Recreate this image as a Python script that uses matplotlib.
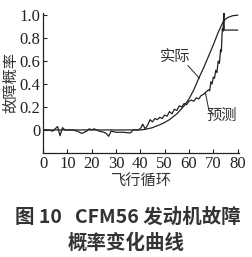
import matplotlib
matplotlib.use('Agg')
import matplotlib.pyplot as plt

plt.rcParams['font.family'] = ['Liberation Serif', 'Noto Sans CJK SC', 'DejaVu Sans']

# predicted (jagged) curve
pred_t = [0, 2, 4, 5, 6, 7, 8, 9, 10, 12, 14, 16, 18, 19, 20, 21, 23, 25, 26, 27, 28, 30,
          32, 33, 35, 36, 37, 39, 40, 41, 42, 43, 44, 45, 46, 47, 48, 49, 50, 51, 52, 53,
          54, 55, 56, 57, 58, 59, 60, 61, 62, 63, 64, 65, 66, 67, 68, 68.5, 69, 69.5, 70,
          70.5, 71, 71.5, 72, 72.5, 73, 73.3, 73.7, 74, 74.4, 74.5, 80]
pred_p = [0, 0, -0.01, 0.01, 0.03, -0.05, 0.02, 0, 0, 0, -0.01, -0.03, -0.01, 0.01, 0, 0.01,
          -0.01, -0.02, -0.03, -0.055, -0.01, -0.02, -0.02, -0.02, -0.025, -0.025, 0, 0, 0.01,
          0.05, 0.01, 0.04, 0.09, 0.07, 0.1, 0.09, 0.11, 0.1, 0.13, 0.12, 0.16, 0.14, 0.18,
          0.17, 0.21, 0.2, 0.23, 0.22, 0.25, 0.26, 0.25, 0.28, 0.27, 0.3, 0.31, 0.33, 0.35,
          0.34, 0.42, 0.40, 0.46, 0.45, 0.52, 0.50, 0.6, 0.58, 0.7, 0.68, 0.88, 0.86, 1.07,
          0.87, 0.87]

# actual (smooth) curve
act_t = [0, 40, 42, 45, 48, 50, 52, 55, 58, 60, 62, 64, 66, 68, 70, 72, 74, 75, 76, 78, 80]
act_p = [0, 0, 0.005, 0.02, 0.045, 0.065, 0.09, 0.14, 0.21, 0.27, 0.35, 0.45, 0.54, 0.64,
         0.74, 0.85, 0.94, 0.965, 0.98, 0.995, 1.0]

xticks = [0, 10, 20, 30, 40, 50, 60, 70, 80]
yticks = [0, 0.2, 0.4, 0.6, 0.8, 1.0]
ytick_labels = ['0', '0.2', '0.4', '0.6', '0.8', '1.0']

serif = ['Liberation Serif', 'DejaVu Serif']
cjk = ['Noto Sans CJK SC', 'DejaVu Sans']

fig = plt.figure(figsize=(2.53, 2.57), dpi=100)
ax = fig.add_axes([0.170, 0.405, 0.775, 0.545])

ax.plot(act_t, act_p, color='#222222', lw=0.9)
ax.plot(pred_t, pred_p, color='#222222', lw=0.9)

ax.set_xlim(0, 80.6)
ax.set_ylim(-0.2, 1.02)
ax.set_xticks(xticks)
ax.set_xticklabels([str(v) for v in xticks], family=serif)
ax.set_yticks(yticks)
ax.set_yticklabels(ytick_labels, family=serif)
ax.tick_params(direction='in', length=3, width=0.8, labelsize=12, colors='#222222', pad=2)
for s in ['top', 'right']:
    ax.spines[s].set_visible(False)
for s in ['left', 'bottom']:
    ax.spines[s].set_linewidth(0.9)
    ax.spines[s].set_color('#222222')

ax.set_xlabel('飞行循环', family=cjk, fontsize=11, color='#333333', labelpad=1)
ax.set_ylabel('故障概率', family=cjk, fontsize=11, color='#333333', labelpad=0)

ax.text(54.5, 0.63, '实际', family=cjk, fontsize=11, color='#333333', ha='center', va='center')
ax.plot([59.6, 64.3], [0.56, 0.45], color='#222222', lw=0.7)
ax.text(73.5, 0.13, '预测', family=cjk, fontsize=11, color='#333333', ha='center', va='center')
ax.plot([68.2, 66.8], [0.17, 0.32], color='#222222', lw=0.7)

fig.text(0.505, 0.155, '图 10   CFM56 发动机故障', family=cjk,
         fontsize=14, fontweight='bold', color='#333333', ha='center', va='center')
fig.text(0.50, 0.055, '概率变化曲线', family=cjk,
         fontsize=14, fontweight='bold', color='#333333', ha='center', va='center')

fig.savefig('out.png', dpi=100, facecolor='white')
